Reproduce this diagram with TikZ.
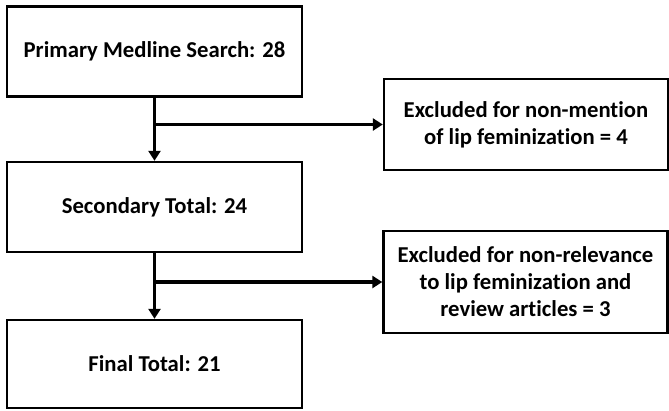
\documentclass[tikz,border=0pt]{standalone}
\usepackage{fontspec}
\setmainfont{Carlito}[Ligatures=NoCommon]
\usepackage{tikz}
\usetikzlibrary{positioning,arrows.meta}

\begin{document}
\begin{tikzpicture}[x=1pt,y=-1pt,
  every node/.style = {shape=rectangle, draw, line width=2.4pt,
    align=center, inner sep=0pt,
    font=\fontsize{22.7}{27}\selectfont\bfseries},
  mainbox/.style = {minimum width=295pt, minimum height=90pt},
  sidebox/.style = {minimum width=284pt},
  conn/.style = {draw, line width=3.6pt, -{Triangle[length=10pt,width=12pt]}}
  ]
  \useasboundingbox (0,0) rectangle (669,410);
  % main column
  \node[mainbox] (primary) at (154.5,51.5) {Primary Medline Search: 28};
  \node[mainbox] (secondary) at (154.5,207) {Secondary Total: 24};
  \node[mainbox, minimum height=88pt] (final) at (154.5,364) {Final Total: 21};
  % exclusions
  \node[sidebox, minimum height=91pt] (excl1) at (526,124.5)
    {Excluded for non-mention\\of lip feminization = 4};
  \node[sidebox, minimum height=102pt] (excl2) at (525.5,282)
    {Excluded for non-relevance\\to lip feminization and\\review articles = 3};
  % arrows
  \draw[conn] (primary) -- (secondary);
  \draw[conn] (primary.south |- excl1.west) -- (excl1.west);
  \draw[conn] (secondary) -- (final);
  \draw[conn] (secondary.south |- excl2.west) -- (excl2.west);
\end{tikzpicture}
\end{document}
